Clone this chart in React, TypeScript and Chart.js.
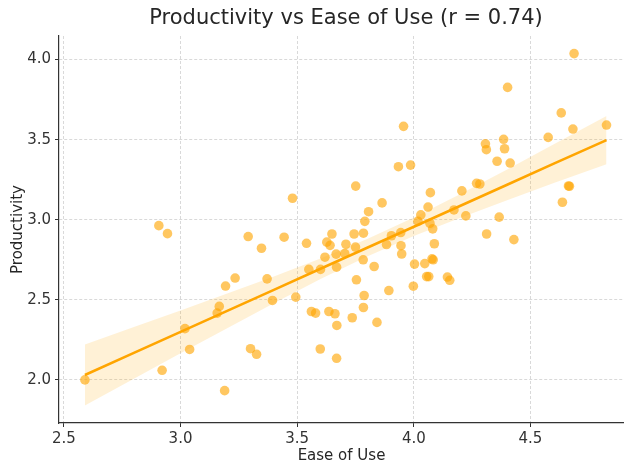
import React, { useEffect, useRef } from "react";
import { Chart, registerables } from "chart.js";

Chart.register(...registerables);

const easeOfUse = [
  2.59, 2.907, 2.944, 2.921, 3.019, 3.039, 3.157, 3.166, 3.189, 3.193,
  3.234, 3.29, 3.30, 3.326, 3.347, 3.371, 3.394, 3.444, 3.48, 3.494,
  3.54, 3.55, 3.561, 3.579, 3.599, 3.60, 3.619, 3.627, 3.636, 3.641,
  3.649, 3.662, 3.667, 3.669, 3.669, 3.670, 3.704, 3.709, 3.736, 3.744,
  3.750, 3.751, 3.754, 3.783, 3.784, 3.784, 3.787, 3.790, 3.806, 3.83,
  3.842, 3.864, 3.883, 3.893, 3.904, 3.934, 3.944, 3.945, 3.948, 3.956,
  3.986, 3.998, 4.003, 4.018, 4.03, 4.047, 4.055, 4.064, 4.061, 4.069,
  4.071, 4.078, 4.083, 4.081, 4.088, 4.144, 4.154, 4.172, 4.206, 4.223,
  4.269, 4.283, 4.307, 4.311, 4.312, 4.357, 4.366, 4.385, 4.389, 4.402,
  4.413, 4.429, 4.576, 4.632, 4.637, 4.663, 4.667, 4.682, 4.687, 4.826,
];

const productivity = [
  2.00, 2.963, 2.913, 2.06, 2.32, 2.19, 2.417, 2.459, 1.933, 2.586,
  2.636, 2.895, 2.195, 2.16, 2.822, 2.631, 2.496, 2.891, 3.134, 2.517,
  2.853, 2.69, 2.427, 2.417, 2.193, 2.69, 2.766, 2.86, 2.427, 2.84,
  2.911, 2.413, 2.785, 2.704, 2.135, 2.34, 2.789, 2.847, 2.388, 2.911,
  2.829, 3.21, 2.625, 2.75, 2.916, 2.452, 2.527, 2.99, 3.05, 2.708,
  2.359, 3.105, 2.845, 2.558, 2.90, 3.331, 2.92, 2.838, 2.786, 3.583,
  3.341, 2.585, 2.723, 2.99, 3.03, 2.726, 2.645, 2.645, 3.079, 2.978,
  3.169, 2.756, 2.75, 2.943, 2.85, 2.642, 2.622, 3.061, 3.18, 3.024,
  3.227, 3.223, 3.474, 3.437, 2.911, 3.365, 3.016, 3.502, 3.443, 3.826,
  3.354, 2.876, 3.514, 3.667, 3.109, 3.211, 3.209, 3.566, 4.037, 3.591,
];

const fitX = [2.59, 2.8, 3.0, 3.2, 3.4, 3.6, 3.8, 4.0, 4.2, 4.4, 4.6, 4.826];
const fitY = [2.031, 2.169, 2.300, 2.431, 2.562, 2.694, 2.825, 2.956, 3.087, 3.218, 3.350, 3.497];
const bandUpper = [2.221, 2.330, 2.434, 2.539, 2.646, 2.758, 2.879, 3.014, 3.161, 3.314, 3.471, 3.648];
const bandLower = [1.841, 2.008, 2.166, 2.323, 2.478, 2.630, 2.771, 2.898, 3.013, 3.122, 3.229, 3.346];

const xTicks = [2.5, 3.0, 3.5, 4.0, 4.5];
const yTicks = [2.0, 2.5, 3.0, 3.5, 4.0];

const TITLE = "Productivity vs Ease of Use (r = 0.74)";
const FONT = "'DejaVu Sans', sans-serif";

// Title centred over the (wider, cropped) axes like the original figure
const axesTitle = {
  id: "axesTitle",
  afterDraw(chart: any) {
    const ctx = chart.ctx;
    ctx.save();
    ctx.font = `21px ${FONT}`;
    ctx.fillStyle = "#262626";
    ctx.textAlign = "center";
    ctx.textBaseline = "middle";
    ctx.fillText(TITLE, 346, 19);
    ctx.restore();
  },
};

export default function App() {
  const ref = useRef<HTMLCanvasElement | null>(null);

  useEffect(() => {
    if (!ref.current) return;
    const pts = easeOfUse.map((x, i) => ({ x, y: productivity[i] }));
    const fit = fitX.map((x, i) => ({ x, y: fitY[i] }));
    const up = fitX.map((x, i) => ({ x, y: bandUpper[i] }));
    const lo = fitX.map((x, i) => ({ x, y: bandLower[i] }));

    const axisCommon = {
      type: "linear" as const,
      border: { display: true, color: "#333333", width: 1.2, dash: [3, 2] },
      grid: {
        color: "#cfcfcf",
        lineWidth: 0.8,
        drawTicks: true,
        tickLength: 4,
        tickColor: "#333333",
        tickWidth: 1,
        tickBorderDash: [],
      },
    };

    const chart = new Chart(ref.current, {
      type: "scatter",
      plugins: [axesTitle],
      data: {
        datasets: [
          {
            type: "line",
            data: fit,
            borderColor: "#FFA500",
            borderWidth: 2.6,
            pointRadius: 0,
            fill: false,
            order: 0,
          } as any,
          {
            type: "scatter",
            data: pts,
            backgroundColor: "rgba(255,165,0,0.62)",
            borderWidth: 0,
            pointRadius: 4.8,
            order: 1,
          },
          {
            type: "line",
            data: up,
            borderWidth: 0,
            borderColor: "rgba(0,0,0,0)",
            pointRadius: 0,
            fill: false,
            order: 2,
          } as any,
          {
            type: "line",
            data: lo,
            borderWidth: 0,
            borderColor: "rgba(0,0,0,0)",
            backgroundColor: "rgba(255,165,0,0.16)",
            pointRadius: 0,
            fill: "-1",
            order: 2,
          } as any,
        ],
      },
      options: {
        responsive: false,
        animation: false,
        layout: { autoPadding: false, padding: { left: 0, right: 0, top: 36, bottom: 0 } },
        plugins: {
          legend: { display: false },
          tooltip: { enabled: false },
          title: { display: false },
        },
        scales: {
          x: {
            ...axisCommon,
            min: 2.479,
            max: 4.901,
            afterBuildTicks: (s: any) => {
              s.ticks = xTicks.map((v) => ({ value: v }));
            },
            afterFit: (s: any) => {
              s.height = 41;
              s.paddingLeft = 0;
              s.paddingRight = 0;
            },
            ticks: {
              color: "#333333",
              font: { family: FONT, size: 15 },
              padding: 3,
              maxRotation: 0,
              callback: (v: any) => Number(v).toFixed(1),
            },
            title: {
              display: true,
              text: "Ease of Use",
              color: "#262626",
              font: { family: FONT, size: 15, lineHeight: 1 },
              padding: { top: 0, bottom: 0 },
            },
          },
          y: {
            ...axisCommon,
            min: 1.731,
            max: 4.147,
            afterBuildTicks: (s: any) => {
              s.ticks = yTicks.map((v) => ({ value: v }));
            },
            afterFit: (s: any) => {
              s.width = 59;
              s.paddingTop = 0;
              s.paddingBottom = 0;
            },
            ticks: {
              color: "#333333",
              font: { family: FONT, size: 15 },
              padding: 4,
              callback: (v: any) => Number(v).toFixed(1),
            },
            title: {
              display: true,
              text: "Productivity",
              color: "#262626",
              font: { family: FONT, size: 15, lineHeight: 1.2 },
              padding: { top: 9, bottom: 0 },
            },
          },
        },
      } as any,
    });
    return () => chart.destroy();
  }, []);

  return (
    <div style={{ position: "fixed", left: 0, top: 0, width: 624, height: 464, background: "#fff" }}>
      <canvas ref={ref} width={624} height={464} style={{ width: 624, height: 464 }} />
    </div>
  );
}
